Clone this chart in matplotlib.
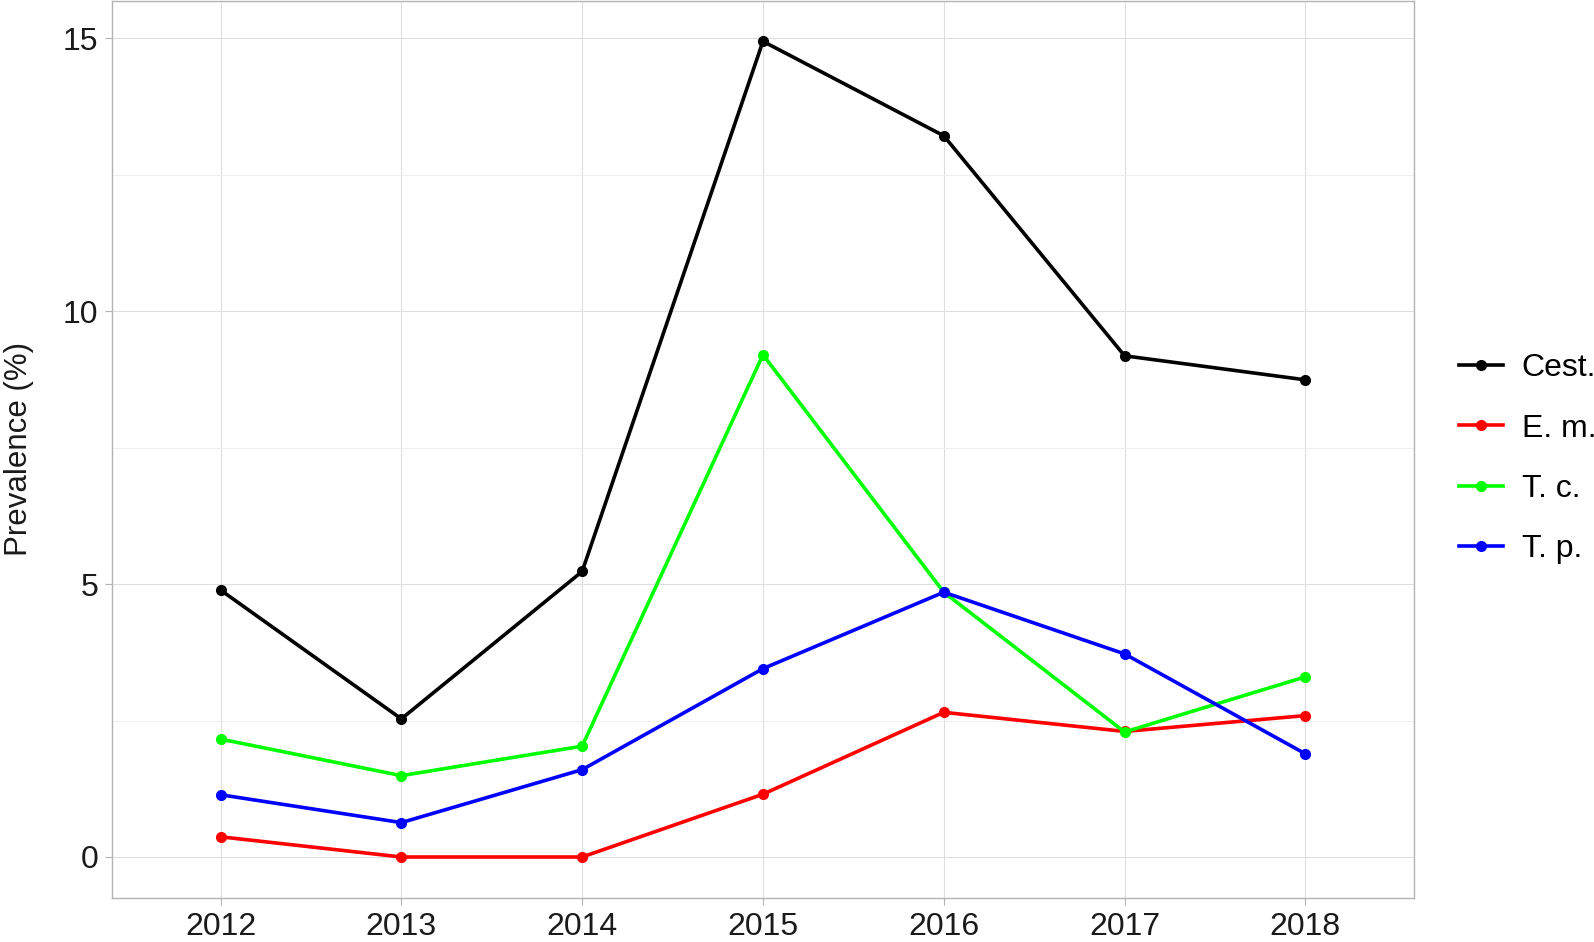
import numpy as np
import matplotlib
matplotlib.use("Agg")
import matplotlib.pyplot as plt

plt.rcParams['font.family'] = ['Liberation Sans', 'DejaVu Sans']

# data
years = [2012, 2013, 2014, 2015, 2016, 2017, 2018]
cest = [4.89, 2.53, 5.23, 14.94, 13.21, 9.18, 8.74]
em = [0.37, 0.0, 0.0, 1.15, 2.65, 2.30, 2.59]
tc = [2.16, 1.49, 2.03, 9.20, 4.85, 2.29, 3.30]
tp = [1.14, 0.63, 1.60, 3.45, 4.85, 3.72, 1.89]

series = [("Cest.", cest, "black"),
          ("E. m.", em, "#FF0000"),
          ("T. c.", tc, "#00FF00"),
          ("T. p.", tp, "#0000FF")]

fig = plt.figure(figsize=(15.94, 9.42), dpi=100)
ax = fig.add_axes([0.0703, 0.047, 0.8167, 0.952])

for name, vals, col in series:
    ax.plot(years, vals, color=col, lw=2.6, marker='o', ms=7, label=name)

ax.set_xlim(2011.4, 2018.6)
ax.set_ylim(-0.746, 15.68)
ax.set_xticks(years)
ax.set_yticks([0, 5, 10, 15])
ax.set_yticks([2.5, 7.5, 12.5], minor=True)

ax.grid(True, which='major', color='#DEDEDE', lw=0.8)
ax.grid(True, which='minor', axis='y', color='#EDEDED', lw=0.6)
ax.set_axisbelow(True)
for s in ax.spines.values():
    s.set_color('#B3B3B3')
    s.set_linewidth(1.0)

ax.tick_params(axis='both', which='major', labelsize=23, color='#B3B3B3',
               length=5, width=0.8, labelcolor='#1a1a1a', pad=5)
ax.tick_params(axis='y', which='minor', length=0)
ax.set_ylabel("Prevalence (%)", fontsize=22.5, color='#1a1a1a', labelpad=21)

fig.legend(loc='center left', bbox_to_anchor=(0.915, 0.513), frameon=False,
           fontsize=23, handlelength=1.38, handletextpad=0.6, labelspacing=0.95,
           borderaxespad=0, borderpad=0)

fig.savefig("out.png", dpi=100)
